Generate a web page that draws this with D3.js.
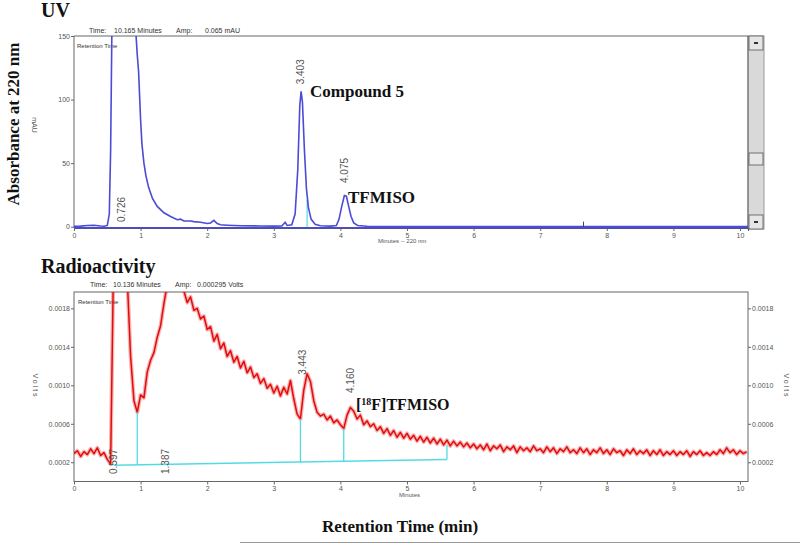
<!DOCTYPE html>
<html>
<head>
<meta charset="utf-8">
<script src="https://cdn.jsdelivr.net/npm/d3@7"></script>
<style>
	body { margin: 0; background: #fff; }
	svg { display: block; }
	.tick text { font-family: 'Liberation Sans', Arial, sans-serif; font-size: 7px; fill: #555; }
	.tick line { stroke: #666; }
	.small { font-family: 'Liberation Sans', Arial, sans-serif; font-size: 7px; fill: #555; }
	.title { font-family: 'Liberation Serif', 'Times New Roman', serif; font-weight: bold; fill: #111; }
</style>
</head>
<body>
<div id="chart"></div>
<script>
// UV trace at 220 nm : [minutes, mAU]
var uvTrace = [
	[0,0.3],[0.1,0.5],[0.2,1.0],[0.3,1.2],[0.4,0.6],[0.45,0.4],[0.5,1],[0.53,10],[0.55,60],[0.57,160],
	[0.6,200],[0.9,200],[0.92,160],[0.95,135],[0.97,122],[1.0,84],[1.02,65],[1.05,50],[1.08,40],[1.12,31],
	[1.18,22],[1.25,16],[1.35,11],[1.45,8],[1.55,5.5],[1.6,6],[1.65,4.5],[1.75,4.5],[1.8,4],[1.9,3.5],
	[2.0,2.5],[2.05,3],[2.1,5],[2.15,2.5],[2.2,1.5],[2.3,1.2],[2.5,0.8],[2.8,0.6],[3.0,0.5],[3.12,0.6],
	[3.17,3.5],[3.2,1],[3.27,1.5],[3.32,10],[3.36,45],[3.39,95],[3.41,106.5],[3.43,98],[3.46,60],[3.49,30],
	[3.52,15],[3.56,6],[3.62,2],[3.7,0.8],[3.85,0.5],[3.94,1],[3.98,6],[4.02,16],[4.06,24.5],[4.09,24],
	[4.12,17],[4.16,8],[4.2,3],[4.26,1],[4.4,0.4],[5,0.2],[6,0.2],[7,0.2],[8,0.2],[9,0.2],[10.12,0.2]
];
var uvTicksY = [0, 50, 100, 150];
// peak retention labels : [text, minutes, mAU level of label foot]
var uvPeakLabels = [["0.726", 0.726, 3.7], ["3.403", 3.403, 112], ["4.075", 4.075, 34.4]];
// integration drop line : [minutes, mAU top]
var uvDrops = [[3.5, 21]];
var uvEvents = [7.65];

// radioactivity trace, sampled every 0.05 min from 0 min, in 1e-4 V
var radioStep = 0.05;
var radioSignal = [
	2.9,3.2,2.6,3.1,2.8,3.4,2.9,3.5,2.7,3.0,2.3,1.8,
	26,26,26,26,21,13,8.4,7.2,9.0,8.7,11.4,12.6,13.4,15.0,16.2,18.5,20.5,21,21.5,21.5,21,19.8,
	18.6,19.2,17.8,18.0,16.9,17.2,15.8,16.1,14.6,15.3,13.8,14.4,13.0,13.6,12.4,13.0,11.8,12.5,
	11.3,11.9,10.8,11.2,10.2,10.7,9.7,10.1,9.2,9.9,8.9,9.8,9.1,10.5,8.6,7.0,6.5,9.5,11.2,10.4,
	8.4,7.2,6.8,7.0,6.4,6.8,6.1,6.4,5.9,5.5,6.9,7.7,7.3,6.5,6.9,5.9,6.3,5.7,
	6.0,5.3,5.7,5.0,5.5,4.8,5.3,4.6,5.1,4.5,5.0,4.4,4.8,4.2,4.7,4.1,4.6,4.0,4.5,3.9,
	4.4,3.8,4.3,3.7,4.2,3.7,4.1,3.6,4.0,3.5,
	3.9,3.4,3.8,3.3,3.9,3.2,3.7,3.4,3.8,3.1,3.6,3.3,3.7,3.0,3.6,3.2,3.5,3.1,3.7,3.2,
	3.4,3.0,3.6,3.1,3.5,2.9,3.4,3.1,3.6,3.0,3.3,2.9,3.5,3.0,3.4,2.8,3.3,3.0,3.5,2.9,
	3.3,2.8,3.4,3.0,3.2,2.7,3.3,2.9,3.4,2.8,3.2,2.9,3.3,2.7,3.2,2.8,3.3,2.7,3.1,2.8,
	3.2,2.7,3.1,2.8,3.2,2.6,3.1,2.8,3.2,2.7,3.0,2.7,3.1,2.8,3.3,2.9,3.5,3.0,3.3,2.8,
	3.2,2.9,3.1
];
var radioTicksY = [0.0002, 0.0006, 0.0010, 0.0014, 0.0018];
// integration baseline and drops, 1e-4 V
var radioBaseline = [[0.6, 1.7], [5.6, 2.3]];
var radioDrops = [[0.95, 7.2, 1.75], [3.40, 6.5, 1.98], [4.05, 5.5, 2.05], [5.6, 3.8, 2.3]];
var radioPeakLabels = [["0.597", 0.597, 0.78], ["1.387", 1.387, 0.78], ["3.443", 3.443, 11.1], ["4.160", 4.160, 9.2]];

var minutesTicks = [0,1,2,3,4,5,6,7,8,9,10];

var _width = 800, _height = 545;
var svg = d3.select("#chart").append("svg").attr("width", _width).attr("height", _height);

var xScale = d3.scaleLinear().domain([0, 10.12]).range([74, 748]);
var yUV = d3.scaleLinear().domain([-1, 150]).range([228, 36]);
var yRad = d3.scaleLinear().domain([0, 0.00197]).range([481.5, 292]);

var blue = "#4b4bd6", red = "#e30b0b", cyan = "#52dbe6";

function clip(id, top, bottom) {
	svg.append("clipPath").attr("id", id)
		.append("rect").attr("x", xScale(0)).attr("y", top)
		.attr("width", xScale(10.12) - xScale(0)).attr("height", bottom - top);
}
clip("clipUV", 36, 229);
clip("clipRad", 292, 482);

// ---------- UV panel ----------
svg.append("text").attr("class", "title").attr("x", 41).attr("y", 17).style("font-size", "20px").text("UV");
svg.append("text").attr("class", "title")
	.attr("transform", "translate(19,124) rotate(-90)")
	.attr("text-anchor", "middle").style("font-size", "17px")
	.text("Absorbance at 220 nm");
svg.append("text").attr("class", "small").attr("transform", "translate(32,125) rotate(90)")
	.attr("text-anchor", "middle").text("mAU");

var hdr = [["Time:", 89], ["10.165 Minutes", 114], ["Amp:", 176], ["0.065 mAU", 205]];
svg.selectAll(".hdrUV").data(hdr).enter().append("text").attr("class", "small")
	.attr("x", function(d) { return d[1]; }).attr("y", 33).style("fill", "#333").text(function(d) { return d[0]; });

// scrollbar
var sb = svg.append("g");
sb.append("rect").attr("x", 748).attr("y", 36).attr("width", 16).attr("height", 193).attr("fill", "#d9d9d9").attr("stroke", "#999");
[[36, 14], [153, 12], [215, 14]].forEach(function(b) {
	sb.append("rect").attr("x", 749).attr("y", b[0]).attr("width", 14).attr("height", b[1])
		.attr("fill", "#e6e6e6").attr("stroke", "#555").attr("stroke-width", 0.8);
});
sb.append("rect").attr("x", 754).attr("y", 42).attr("width", 4).attr("height", 2).attr("fill", "#333");
sb.append("rect").attr("x", 754).attr("y", 221).attr("width", 4).attr("height", 2).attr("fill", "#333");

// frame
svg.append("path").attr("d", "M74,228V36H748V228").attr("fill", "none").attr("stroke", "#666");

svg.append("g").attr("transform", "translate(0,228)")
	.call(d3.axisBottom(xScale).tickValues(minutesTicks).tickSize(3).tickPadding(2))
	.call(function(g) { g.select(".domain").attr("stroke", "#555"); });
svg.append("g").attr("transform", "translate(74,0)")
	.call(d3.axisLeft(yUV).tickValues(uvTicksY).tickSize(3).tickPadding(1))
	.call(function(g) { g.select(".domain").remove(); });
svg.append("text").attr("class", "small").attr("x", 378).attr("y", 243).style("font-size", "6px").text("Minutes -- 220 nm");
svg.append("text").attr("class", "small").attr("x", 77).attr("y", 48).style("font-size", "6px").style("fill", "#333").text("Retention Time");

var uvLine = d3.line().x(function(d) { return xScale(d[0]); }).y(function(d) { return yUV(d[1]); });
var gUV = svg.append("g").attr("clip-path", "url(#clipUV)");
gUV.selectAll(".drop").data(uvDrops).enter().append("line")
	.attr("x1", function(d) { return xScale(d[0]); }).attr("x2", function(d) { return xScale(d[0]); })
	.attr("y1", function(d) { return yUV(d[1]); }).attr("y2", yUV(0))
	.attr("stroke", cyan).attr("stroke-width", 1.2);
gUV.append("path").datum(uvTrace).attr("d", uvLine)
	.attr("fill", "none").attr("stroke", blue).attr("stroke-width", 1.6);
gUV.append("line").attr("x1", xScale(0)).attr("x2", xScale(10.12)).attr("y1", yUV(0) + 1).attr("y2", yUV(0) + 1)
	.attr("stroke", blue).attr("stroke-width", 1.4);
gUV.selectAll(".evt").data(uvEvents).enter().append("line")
	.attr("x1", function(d) { return xScale(d); }).attr("x2", function(d) { return xScale(d); })
	.attr("y1", yUV(4)).attr("y2", yUV(0)).attr("stroke", "#444");

svg.selectAll(".uvLab").data(uvPeakLabels).enter().append("text").attr("class", "small")
	.attr("transform", function(d) { return "translate(" + (xScale(d[1]) + 3) + "," + yUV(d[2]) + ") rotate(-90)"; })
	.style("font-size", "10px").style("fill", "#555")
	.text(function(d) { return d[0]; });

svg.append("text").attr("class", "title").attr("x", 310).attr("y", 97).style("font-size", "17px").text("Compound 5");
svg.append("text").attr("class", "title").attr("x", 348).attr("y", 203).style("font-size", "17px").text("TFMISO");

// ---------- Radioactivity panel ----------
svg.append("text").attr("class", "title").attr("x", 41).attr("y", 273).style("font-size", "20px").text("Radioactivity");
var hdr2 = [["Time:", 90], ["10.136 Minutes", 113], ["Amp:", 175], ["0.000295 Volts", 197]];
svg.selectAll(".hdrRad").data(hdr2).enter().append("text").attr("class", "small")
	.attr("x", function(d) { return d[1]; }).attr("y", 287).style("fill", "#333").text(function(d) { return d[0]; });

svg.append("rect").attr("x", 74).attr("y", 292).attr("width", 674).attr("height", 189.5)
	.attr("fill", "none").attr("stroke", "#666");

var fmt = d3.format(".4f");
svg.append("g").attr("transform", "translate(0,481.5)")
	.call(d3.axisBottom(xScale).tickValues(minutesTicks).tickSize(3).tickPadding(2))
	.call(function(g) { g.select(".domain").remove(); });
svg.append("g").attr("transform", "translate(74,0)")
	.call(d3.axisLeft(yRad).tickValues(radioTicksY).tickFormat(fmt).tickSize(3).tickPadding(1))
	.call(function(g) { g.select(".domain").remove(); });
svg.append("g").attr("transform", "translate(748,0)")
	.call(d3.axisRight(yRad).tickValues(radioTicksY).tickFormat(fmt).tickSize(3).tickPadding(1))
	.call(function(g) { g.select(".domain").remove(); });
svg.append("text").attr("class", "small").attr("transform", "translate(33,386) rotate(90)")
	.attr("text-anchor", "middle").attr("letter-spacing", "2px").text("Volts");
svg.append("text").attr("class", "small").attr("transform", "translate(784,386) rotate(90)")
	.attr("text-anchor", "middle").attr("letter-spacing", "2px").text("Volts");
svg.append("text").attr("class", "small").attr("x", 399).attr("y", 497).style("font-size", "6px").text("Minutes");
svg.append("text").attr("class", "small").attr("x", 78).attr("y", 304).style("font-size", "6px").style("fill", "#333").text("Retention Time");

var radLine = d3.line()
	.x(function(d, i) { return xScale(i * radioStep); })
	.y(function(d) { return yRad(d * 1e-4); });
var gRad = svg.append("g").attr("clip-path", "url(#clipRad)");
// soft halo under the trace to give the noisy band look
gRad.append("path").datum(radioSignal).attr("d", radLine)
	.attr("fill", "none").attr("stroke", red).attr("stroke-opacity", 0.3).attr("stroke-width", 4).attr("stroke-linejoin", "round");
gRad.append("path").datum(radioSignal).attr("d", radLine)
	.attr("fill", "none").attr("stroke", red).attr("stroke-width", 1.5).attr("stroke-linejoin", "round");
gRad.append("line")
	.attr("x1", xScale(radioBaseline[0][0])).attr("y1", yRad(radioBaseline[0][1] * 1e-4))
	.attr("x2", xScale(radioBaseline[1][0])).attr("y2", yRad(radioBaseline[1][1] * 1e-4))
	.attr("stroke", cyan).attr("stroke-width", 1.5);
gRad.selectAll(".drop").data(radioDrops).enter().append("line")
	.attr("x1", function(d) { return xScale(d[0]); }).attr("x2", function(d) { return xScale(d[0]); })
	.attr("y1", function(d) { return yRad(d[1] * 1e-4); }).attr("y2", function(d) { return yRad(d[2] * 1e-4); })
	.attr("stroke", cyan).attr("stroke-width", 1.3);

svg.selectAll(".radLab").data(radioPeakLabels).enter().append("text").attr("class", "small")
	.attr("transform", function(d) { return "translate(" + (xScale(d[1]) + 3) + "," + yRad(d[2] * 1e-4) + ") rotate(-90)"; })
	.style("font-size", "10px").style("fill", "#555")
	.text(function(d) { return d[0]; });

var lab = svg.append("text").attr("class", "title").attr("x", 356).attr("y", 410).style("font-size", "16px");
lab.append("tspan").text("[");
lab.append("tspan").attr("dy", -5).style("font-size", "10px").text("18");
lab.append("tspan").attr("dy", 5).text("F]TFMISO");

// ---------- shared x title ----------
svg.append("text").attr("class", "title").attr("x", 400).attr("y", 532)
	.attr("text-anchor", "middle").style("font-size", "17px").text("Retention Time (min)");
svg.append("line").attr("x1", 240).attr("x2", 800).attr("y1", 542.5).attr("y2", 542.5)
	.attr("stroke", "#999");
</script>
</body>
</html>
